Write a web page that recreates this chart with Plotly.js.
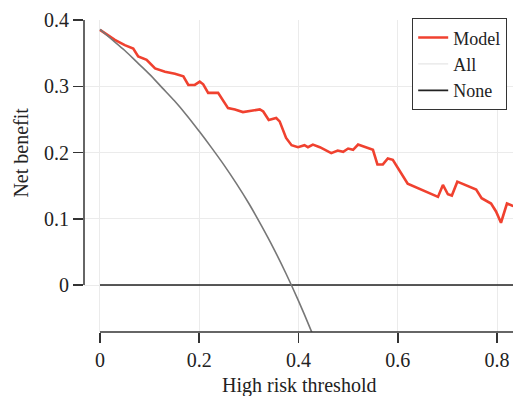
<!DOCTYPE html>
<html>
<head>
<meta charset="utf-8">
<script src="https://cdn.plot.ly/plotly-3.0.1.min.js"></script>
<style>html,body{margin:0;padding:0;background:#fff;}#chart{width:513px;height:396px;}</style>
</head>
<body>
<div id="chart"></div>
<script>
// Model net benefit
const modelThreshold = [0, 0.03, 0.05, 0.067, 0.077, 0.094, 0.111, 0.131, 0.151, 0.168, 0.178, 0.191, 0.201, 0.208, 0.218, 0.238, 0.258, 0.272, 0.288, 0.305, 0.322, 0.329, 0.340, 0.355, 0.362, 0.375, 0.386, 0.399, 0.406, 0.412, 0.419, 0.429, 0.443, 0.466, 0.479, 0.490, 0.500, 0.510, 0.520, 0.550, 0.559, 0.570, 0.580, 0.590, 0.620, 0.681, 0.691, 0.701, 0.709, 0.720, 0.758, 0.769, 0.788, 0.798, 0.808, 0.820, 0.830, 0.850];
const modelBenefit = [0.385, 0.370, 0.362, 0.357, 0.345, 0.340, 0.327, 0.322, 0.319, 0.315, 0.302, 0.302, 0.307, 0.303, 0.290, 0.290, 0.267, 0.265, 0.261, 0.263, 0.265, 0.262, 0.249, 0.252, 0.247, 0.222, 0.211, 0.208, 0.210, 0.211, 0.208, 0.212, 0.208, 0.199, 0.203, 0.201, 0.206, 0.204, 0.212, 0.204, 0.182, 0.182, 0.191, 0.189, 0.153, 0.133, 0.151, 0.137, 0.135, 0.156, 0.144, 0.131, 0.123, 0.111, 0.094, 0.123, 0.120, 0.115];
// Treat-all net benefit
const allThreshold = [0, 0.025, 0.05, 0.075, 0.1, 0.125, 0.15, 0.175, 0.2, 0.225, 0.25, 0.275, 0.3, 0.325, 0.35, 0.375, 0.4, 0.425, 0.44];
const allBenefit = [0.386, 0.370, 0.354, 0.336, 0.318, 0.298, 0.278, 0.256, 0.232, 0.207, 0.181, 0.153, 0.123, 0.090, 0.055, 0.017, -0.024, -0.068, -0.096];
// Treat-none
const noneThreshold = [0, 0.9];
const noneBenefit = [0, 0];

const xTicks = [0, 0.2, 0.4, 0.6, 0.8];
const xTickText = ['0', '0.2', '0.4', '0.6', '0.8'];
const yTicks = [0, 0.1, 0.2, 0.3, 0.4];
const yTickText = ['0', '0.1', '0.2', '0.3', '0.4'];

const xRange = [-0.0322, 0.8322];
const yRange = [-0.0709, 0.4];
const FONT = '"Liberation Serif", "DejaVu Serif", serif';

const traces = [
  {x: modelThreshold, y: modelBenefit, name: 'Model', mode: 'lines', line: {color: '#f0412f', width: 2.6}},
  {x: [null], y: [null], name: 'All', mode: 'lines', line: {color: '#e6e6e6', width: 1.2}},
  {x: noneThreshold, y: noneBenefit, name: 'None', mode: 'lines', line: {color: '#222222', width: 1.6}},
  {x: allThreshold, y: allBenefit, name: 'All', mode: 'lines', showlegend: false, line: {color: '#777777', width: 1.6, shape: 'spline'}}
];

const layout = {
  width: 513, height: 396,
  margin: {l: 84, r: 0, t: 20, b: 64},
  paper_bgcolor: '#ffffff', plot_bgcolor: '#ffffff',
  font: {family: FONT, size: 20, color: '#222222'},
  showlegend: true,
  legend: {x: 0.986, xanchor: 'right', y: 1.006, yanchor: 'top', bgcolor: '#ffffff', bordercolor: '#333333', borderwidth: 1.2, font: {family: FONT, size: 18, color: '#222222'}, tracegroupgap: 0, itemwidth: 30},
  xaxis: {range: xRange, tickvals: xTicks, ticktext: xTickText, ticks: 'outside', ticklen: 10, tickwidth: 1.5, tickcolor: '#333333', showline: false, zeroline: false, showgrid: true, gridcolor: '#ebebeb', gridwidth: 1, tickfont: {family: FONT, size: 20, color: '#222222'}},
  yaxis: {range: yRange, tickvals: yTicks, ticktext: yTickText, ticks: 'outside', ticklen: 10, tickwidth: 1.5, tickcolor: '#333333', showline: false, zeroline: false, showgrid: true, gridcolor: '#ebebeb', gridwidth: 1, tickfont: {family: FONT, size: 20, color: '#222222'}},
  shapes: [
    {type: 'line', xref: 'paper', yref: 'y', x0: 0, x1: 0, y0: 0, y1: 0.4, line: {color: '#333333', width: 1.5}},
    {type: 'line', xref: 'x', yref: 'paper', x0: 0, x1: xRange[1], y0: 0, y1: 0, line: {color: '#333333', width: 1.5}}
  ],
  annotations: [
    {text: 'Net benefit', textangle: -90, xref: 'paper', yref: 'y', x: -0.149, y: 0.2, xanchor: 'center', yanchor: 'middle', showarrow: false, font: {family: FONT, size: 20, color: '#222222'}},
    {text: 'High risk threshold', xref: 'paper', yref: 'paper', x: 0.5, y: -0.172, xanchor: 'center', yanchor: 'middle', showarrow: false, font: {family: FONT, size: 20, color: '#222222'}}
  ]
};

Plotly.newPlot('chart', traces, layout, {displayModeBar: false, staticPlot: true});
</script>
</body>
</html>
